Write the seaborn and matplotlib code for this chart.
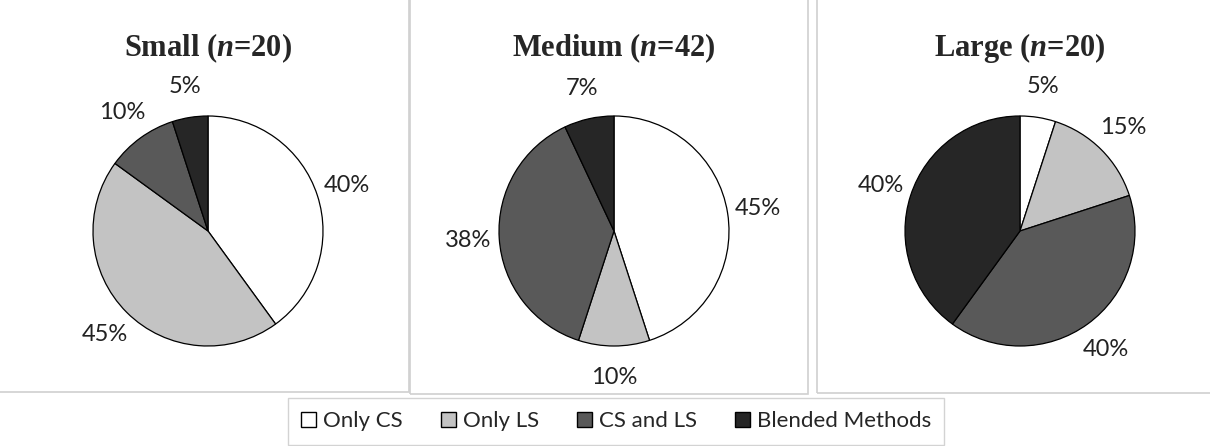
import seaborn as sns
import matplotlib.pyplot as plt
from matplotlib.patches import Rectangle, Patch

categories = ["Only CS", "Only LS", "CS and LS", "Blended Methods"]
titles = [r"Small $\mathit{(n}$=20$\mathit{)}$",
          r"Medium ($\mathit{n}$=42)",
          r"Large $\mathit{(n}$=20$\mathit{)}$"]
small = [40, 45, 10, 5]
medium = [45, 10, 38, 7]
large = [5, 15, 40, 40]

colors = ["#ffffff", "#c3c3c3", "#595959", "#262626"]

sns.set_theme(style="white")
plt.rcParams["mathtext.fontset"] = "custom"
plt.rcParams["mathtext.it"] = "Liberation Serif:italic:bold"
plt.rcParams["mathtext.rm"] = "Liberation Serif:bold"

W, H = 1210, 446
fig = plt.figure(figsize=(W / 100, H / 100), dpi=100)

# panel frames (pixel coords -> figure fraction)
frames = [(-2, 409), (410, 808), (817, 1212)]
bottoms = [392, 394, 393]
for (x0, x1), yb in zip(frames, bottoms):
    fig.patches.append(Rectangle((x0 / W, 1 - yb / H), (x1 - x0) / W, (yb - 10) / H + 0.2,
                                 transform=fig.transFigure, fill=False,
                                 edgecolor="#d0d0d0", linewidth=1.2))

centers = [208, 614, 1020]
radius = 115
cy = 231
for cx, vals, title in zip(centers, [small, medium, large], titles):
    size = 2 * radius
    ax = fig.add_axes([(cx - radius) / W, 1 - (cy + radius) / H, size / W, size / H])
    ax.pie(vals, colors=colors, startangle=90, counterclock=False,
           autopct="%.0f%%", pctdistance=1.27,
           wedgeprops=dict(edgecolor="black", linewidth=0.9),
           textprops=dict(fontsize=17, family="Lato", color="#222222"))
    ax.set_xlim(-1, 1)
    ax.set_ylim(-1, 1)
    ax.set_aspect("equal")
    fig.text(cx / W, 1 - 48 / H, title, ha="center", va="center",
             fontsize=22, fontweight="bold", family="Liberation Serif")

handles = [Patch(facecolor=c, edgecolor="black", linewidth=1) for c in colors]
leg = fig.legend(handles, categories, loc="upper center", ncol=4,
                 bbox_to_anchor=(616 / W, 1 - 398 / H),
                 frameon=True, fancybox=False, edgecolor="#c8c8c8",
                 prop=dict(family="Lato", size=16),
                 handlelength=0.7, handleheight=0.7, handletextpad=0.3,
                 columnspacing=1.7, borderpad=0.6, borderaxespad=0)
leg.get_frame().set_linewidth(1.0)

fig.savefig("out.png", dpi=100)
